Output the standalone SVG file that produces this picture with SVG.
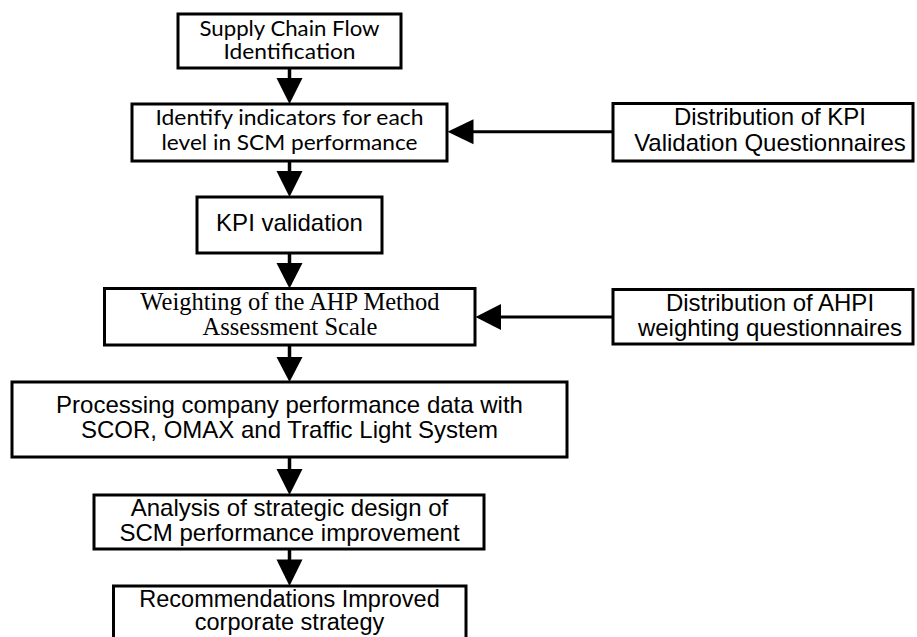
<svg xmlns="http://www.w3.org/2000/svg" width="917" height="637" viewBox="0 0 917 637">
<style>
.box{fill:#fff;stroke:#000;stroke-width:3}
.t{font-family:"Liberation Sans",Arial,sans-serif;font-size:24px;fill:#000;text-anchor:middle}
.c{font-family:Lato,"Open Sans",sans-serif;font-size:21px;fill:#000;text-anchor:middle}
.s{font-family:"Liberation Serif","Times New Roman",serif;font-size:24.5px;fill:#000;text-anchor:middle}
.ln{stroke:#000;stroke-width:3.5;fill:none}
.hd{fill:#000;stroke:none}
</style>
<rect width="917" height="637" fill="#fff"/>
<g id="connectors">
<line class="ln" x1="289.5" y1="68" x2="289.5" y2="80"/>
<polygon class="hd" points="276.5,78 302.5,78 289.5,104"/>
<line class="ln" x1="289.5" y1="161" x2="289.5" y2="173"/>
<polygon class="hd" points="276.5,171 302.5,171 289.5,197"/>
<line class="ln" x1="289.5" y1="253" x2="289.5" y2="265"/>
<polygon class="hd" points="276.5,263 302.5,263 289.5,288.5"/>
<line class="ln" x1="289.5" y1="345" x2="289.5" y2="359"/>
<polygon class="hd" points="276.5,357 302.5,357 289.5,382"/>
<line class="ln" x1="289.5" y1="457" x2="289.5" y2="471"/>
<polygon class="hd" points="276.5,469 302.5,469 289.5,495"/>
<line class="ln" x1="289.5" y1="549" x2="289.5" y2="561"/>
<polygon class="hd" points="276.5,559.5 302.5,559.5 289.5,586"/>
<line class="ln" style="stroke-width:3" x1="613" y1="131.8" x2="471" y2="131.8"/>
<polygon class="hd" points="473.5,119.3 473.5,144.3 447.5,131.8"/>
<line class="ln" style="stroke-width:3" x1="613" y1="317" x2="499" y2="317"/>
<polygon class="hd" points="501,304 501,330 475.5,317"/>
</g>
<g id="n1">
<rect class="box" x="178" y="14" width="223" height="54"/>
<text class="c" x="289.5" y="35.5" textLength="180" lengthAdjust="spacingAndGlyphs">Supply Chain Flow</text>
<text class="c" x="289.5" y="59" textLength="132" lengthAdjust="spacingAndGlyphs">Identification</text>
</g>
<g id="n2">
<rect class="box" x="132" y="104" width="315" height="57"/>
<text class="c" x="289.5" y="125" textLength="268" lengthAdjust="spacingAndGlyphs">Identify indicators for each</text>
<text class="c" x="289.5" y="150" textLength="256" lengthAdjust="spacingAndGlyphs">level in SCM performance</text>
</g>
<g id="n3">
<rect class="box" x="197" y="197" width="185" height="56"/>
<text class="t" x="289.5" y="231">KPI validation</text>
</g>
<g id="n4">
<rect class="box" x="104.5" y="288.5" width="370.5" height="56.5"/>
<text class="s" x="290" y="309.5">Weighting of the AHP Method</text>
<text class="s" x="290" y="335">Assessment Scale</text>
</g>
<g id="n5">
<rect class="box" x="12" y="382" width="555" height="75"/>
<text class="t" x="289.5" y="412.5">Processing company performance data with</text>
<text class="t" x="289.5" y="437.5">SCOR, OMAX and Traffic Light System</text>
</g>
<g id="n6">
<rect class="box" x="94" y="495" width="390" height="54"/>
<text class="t" x="289.5" y="515.7">Analysis of strategic design of</text>
<text class="t" x="289.5" y="541">SCM performance improvement</text>
</g>
<g id="n7">
<rect class="box" x="113.5" y="586" width="352.5" height="56"/>
<text class="t" style="font-size:23.5px" x="289.5" y="607">Recommendations Improved</text>
<text class="t" style="font-size:23.5px" x="289.5" y="630">corporate strategy</text>
</g>
<g id="r1">
<rect class="box" x="613" y="103.5" width="300" height="57.5"/>
<text class="t" x="770" y="125">Distribution of KPI</text>
<text class="t" x="770" y="150.7">Validation Questionnaires</text>
</g>
<g id="r2">
<rect class="box" x="613" y="289.5" width="300" height="54.5"/>
<text class="t" x="770" y="310.7">Distribution of AHPI</text>
<text class="t" x="770" y="336">weighting questionnaires</text>
</g>
</svg>
